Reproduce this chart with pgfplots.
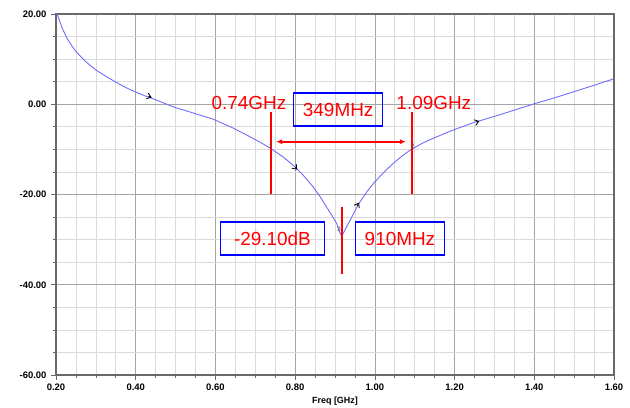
\documentclass[border=0pt]{standalone}
\usepackage{fontspec}
\setmainfont{Liberation Sans}
\usepackage{pgfplots}
\pgfplotsset{compat=1.18}
\usetikzlibrary{arrows.meta}
\definecolor{curve}{RGB}{110,110,250}
\definecolor{gmaj}{RGB}{165,165,165}
\definecolor{gmin}{RGB}{218,218,218}
\definecolor{axc}{RGB}{105,105,105}
\begin{document}
\begin{tikzpicture}
\useasboundingbox (-56bp,-33bp) rectangle (574bp,375bp);
\begin{axis}[
  at={(0,0)}, anchor=south west,
  scale only axis, width=558bp, height=361bp,
  xmin=0.2, xmax=1.6, ymin=-60, ymax=20,
  xtick={0.2,0.4,0.6,0.8,1.0,1.2,1.4,1.6},
  ytick={-60,-40,-20,0,20},
  minor x tick num=3, minor y tick num=3,
  grid=both,
  major grid style={gmaj, line width=0.7bp},
  minor grid style={gmin, line width=0.7bp},
  axis line style={axc, line width=1.1bp},
  tick style={axc, line width=0.7bp},
  tick align=outside, tick pos=left,
  major tick length=5bp, minor tick length=3bp,
  /pgf/number format/.cd, fixed, fixed zerofill, precision=2, assume math mode=true,
  /pgfplots/.cd,
  tick label style={font=\fontsize{9.5}{11}\selectfont\bfseries},
  yticklabel style={xshift=-1bp},
  xlabel={Freq [GHz]},
  xlabel style={at={(axis description cs:0.5,0)}, anchor=center, yshift=-26bp, font=\fontsize{9}{11}\selectfont\bfseries},
]
\addplot[curve, line width=0.9bp] coordinates {
(0.203,20) (0.215,17.0) (0.227,14.7) (0.24,12.9) (0.25,11.7) (0.275,9.4) (0.30,7.6)
(0.325,6.2) (0.35,4.9) (0.375,3.7) (0.40,2.7) (0.425,1.8) (0.45,1.0) (0.475,0.1)
(0.50,-0.75) (0.525,-1.4) (0.55,-2.1) (0.594,-3.3) (0.64,-5.1) (0.678,-6.8)
(0.71,-8.3) (0.739,-9.8) (0.77,-11.7) (0.795,-13.5) (0.82,-15.7) (0.845,-18.3)
(0.862,-20.4) (0.879,-22.8) (0.892,-24.6) (0.904,-26.4) (0.911,-28.2) (0.916,-29.1)
(0.922,-28.4) (0.93,-27.0) (0.938,-25.7) (0.95,-23.6) (0.963,-21.6) (0.98,-19.4)
(0.996,-17.6) (1.02,-15.3) (1.046,-13.1) (1.068,-11.5) (1.088,-10.2) (1.12,-8.6)
(1.15,-7.4) (1.2,-5.6) (1.25,-4.0) (1.3,-2.7) (1.35,-1.3) (1.40,0.1) (1.45,1.4)
(1.50,2.8) (1.55,4.2) (1.598,5.6)
};
% direction arrows on the curve
\addplot[black, line width=0.8bp, -{Straight Barb[length=4bp,width=6bp]}] coordinates {(0.432,1.75) (0.44,1.5)};
\addplot[black, line width=0.8bp, -{Straight Barb[length=4bp,width=6bp]}] coordinates {(0.80,-14.0) (0.805,-14.5)};
\addplot[black, line width=0.8bp, -{Straight Barb[length=4bp,width=6bp]}] coordinates {(0.955,-22.6) (0.96,-21.8)};
\addplot[black, line width=0.8bp, -{Straight Barb[length=4bp,width=6bp]}] coordinates {(1.255,-3.95) (1.262,-3.75)};
% marker lines
\addplot[red, line width=1.7bp] coordinates {(0.739,-1.7) (0.739,-20)};
\addplot[red, line width=1.7bp] coordinates {(1.093,-1.7) (1.093,-20)};
\addplot[red, line width=1.7bp] coordinates {(0.917,-22.8) (0.917,-37.6)};
\addplot[draw=red, fill=red, line width=2bp, {Latex[length=6bp,width=5bp]}-{Latex[length=6bp,width=5bp]}] coordinates {(0.752,-8.3) (1.078,-8.3)};
% marker numbers
\node[font=\fontsize{6.5}{7}\selectfont, text=black!70] at (axis cs:0.738,-9.3) {1};
\node[font=\fontsize{6.5}{7}\selectfont, text=black!70] at (axis cs:1.095,-9.3) {2};
\node[font=\fontsize{6.5}{7}\selectfont, text=black!70] at (axis cs:0.91,-27.6) {3};
% labels
\node[font=\fontsize{19}{21}\selectfont, text=red, inner sep=0pt] at (axis cs:0.684,0.3) {0.74GHz};
\node[font=\fontsize{19}{21}\selectfont, text=red, inner sep=0pt] at (axis cs:1.148,0.3) {1.09GHz};
\node[font=\fontsize{19}{21}\selectfont, text=red, draw=blue, line width=1.5bp, inner sep=0pt, minimum width=89bp, minimum height=33bp] at (axis cs:0.908,-1.2) {349MHz};
\node[font=\fontsize{19}{21}\selectfont, text=red, draw=blue, line width=1.5bp, inner sep=0pt, minimum width=104bp, minimum height=33bp] at (axis cs:0.743,-29.8) {-29.10dB};
\node[font=\fontsize{19}{21}\selectfont, text=red, draw=blue, line width=1.5bp, inner sep=0pt, minimum width=89bp, minimum height=33bp] at (axis cs:1.063,-29.8) {910MHz};
\end{axis}
\end{tikzpicture}
\end{document}
